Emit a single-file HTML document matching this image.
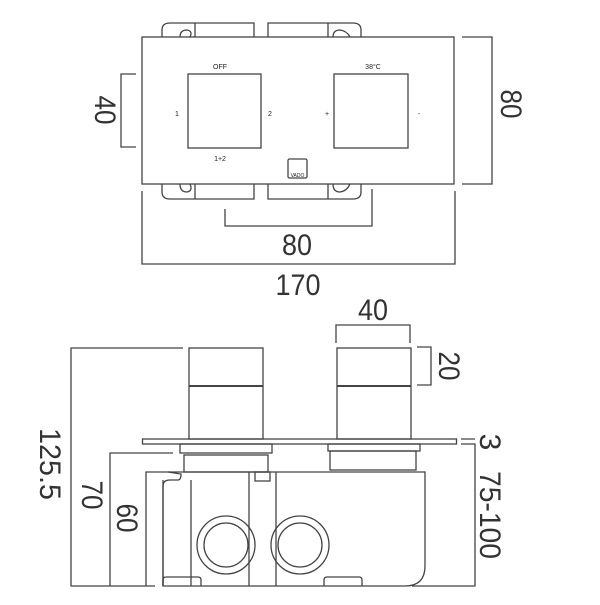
<!DOCTYPE html>
<html><head><meta charset="utf-8"><style>html,body{margin:0;padding:0;background:#fff}</style></head><body>
<svg width="600" height="600" viewBox="0 0 600 600" xmlns="http://www.w3.org/2000/svg" font-family="Liberation Sans, sans-serif">
<g fill="none" stroke="#444" stroke-width="1.3">
<path d="M162 37 V30 Q162 23 170 23 H195 V37 M195 23 H254 V37"/>
<path d="M268 37 V23 H328 V37 M328 23 H353 Q361 23 361 30 V37"/>
<path d="M162 184 V192 Q162 199 170 199 H195 V184 M195 199 H254 V184"/>
<path d="M268 184 V199 H328 V184 M328 199 H353 Q361 199 361 192 V184"/>
<path d="M180 37 Q180 30 187 30 Q193 31 190 37"/><path d="M333 37 Q333 30 340 30 Q347 31 350 37"/>
<path d="M180 184 Q180 192 187 192 Q193 191 190 184"/><path d="M333 184 Q333 192 340 192 Q347 191 350 184"/>
<rect x="142" y="37" width="312" height="147" fill="#fff"/>
<rect x="188" y="74" width="73" height="74"/>
<rect x="334" y="74" width="74" height="74"/>
<rect x="288" y="159" width="19" height="19" rx="1.5"/>
<path d="M136 74 H121 V147 H136"/>
<path d="M462 37 H492 V184 H462"/>
<path d="M225 209 V226 H372 V189"/>
<path d="M142 191 V264 H455 V191"/>
<rect x="189" y="348" width="74" height="91"/><line x1="189" y1="386" x2="263" y2="386" stroke-width="2"/>
<rect x="337" y="348" width="74" height="91"/><line x1="337" y1="386" x2="411" y2="386" stroke-width="2"/>
<rect x="142.5" y="439" width="314" height="5"/>
<rect x="180" y="444" width="92" height="9"/>
<rect x="184" y="455" width="84" height="17"/>
<rect x="328" y="444" width="92" height="7"/>
<rect x="330" y="451" width="86" height="19"/>
<path d="M168 472 H425 V566 Q425 586 405 586 H163 V486 Q163 480 170 480 H178 Q181 480 181 474 Z" />
<path d="M163 586 V480 M191 480 V586"/>
<line x1="249" y1="472" x2="249" y2="586"/><line x1="276" y1="472" x2="276" y2="586"/>
<rect x="255" y="472" width="15" height="9"/>
<path d="M163 586 V580 Q163 577 166 577 H198 Q201 577 201 580 V586"/>
<path d="M324 586 V580 Q324 577 327 577 H359 Q362 577 362 580 V586"/>
<circle cx="226" cy="545" r="29"/><circle cx="226" cy="545" r="22"/>
<circle cx="300" cy="545" r="29"/><circle cx="300" cy="545" r="22"/>
<path d="M183 348 H71 V586 H155"/>
<path d="M173 453 H110 V586"/>
<path d="M170 472 H146 V586"/>
<path d="M336 343 V325 H410 V343"/>
<path d="M417 347 H431 V385 H417"/>
<path d="M461 439 H475 M461 444 H475 V586 H412"/>
</g>
<g fill="#222" font-size="7" text-anchor="middle">
<text x="220" y="69">OFF</text><text x="373" y="69">38°C</text>
<text x="177" y="116">1</text><text x="270" y="116">2</text>
<text x="327" y="116">+</text><text x="419" y="116">-</text>
<text x="220" y="161">1+2</text>
<text x="297.5" y="177" font-size="5">VADO</text>
</g>
<g fill="#333" font-size="30" text-anchor="middle" lengthAdjust="spacingAndGlyphs">
<text transform="translate(95,110) rotate(90)" textLength="29" lengthAdjust="spacingAndGlyphs">40</text>
<text transform="translate(501,104) rotate(90)" textLength="29" lengthAdjust="spacingAndGlyphs">80</text>
<text x="297" y="255" textLength="30" lengthAdjust="spacingAndGlyphs">80</text>
<text x="298" y="295" textLength="45" lengthAdjust="spacingAndGlyphs">170</text>
<text x="373" y="320" textLength="30" lengthAdjust="spacingAndGlyphs">40</text>
<text transform="translate(439,366) rotate(90)" textLength="29" lengthAdjust="spacingAndGlyphs">20</text>
<text transform="translate(480,442) rotate(90)">3</text>
<text transform="translate(480,515) rotate(90)" textLength="88" lengthAdjust="spacingAndGlyphs">75-100</text>
<text transform="translate(40,464) rotate(90)" textLength="72" lengthAdjust="spacingAndGlyphs">125.5</text>
<text transform="translate(82,495) rotate(90)" textLength="29" lengthAdjust="spacingAndGlyphs">70</text>
<text transform="translate(117,518) rotate(90)" textLength="29" lengthAdjust="spacingAndGlyphs">60</text>
</g>
</svg>
</body></html>
